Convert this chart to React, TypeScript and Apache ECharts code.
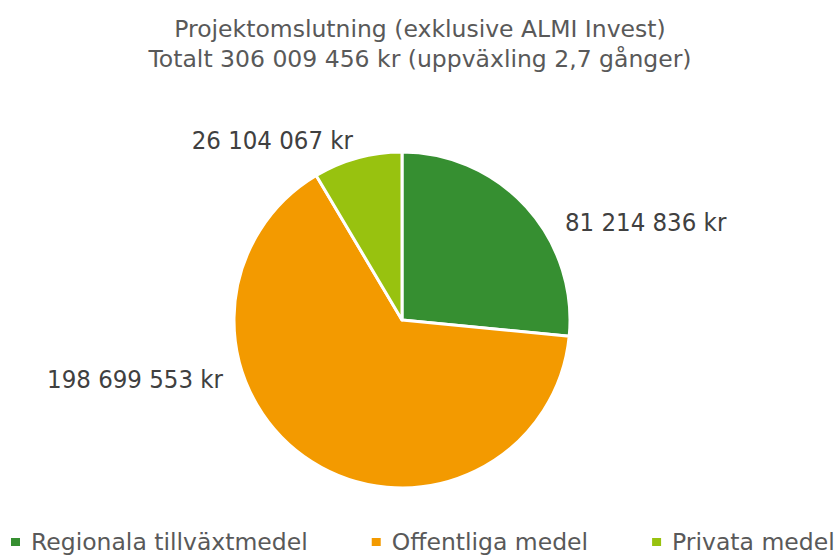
import React, { useEffect, useRef } from "react";
import * as echarts from "echarts";

const categories = ["Regionala tillväxtmedel", "Offentliga medel", "Privata medel"];
const values = [81214836, 198699553, 26104067];
const valueLabels = ["81 214 836 kr", "198 699 553 kr", "26 104 067 kr"];
const titleLines = [
  "Projektomslutning (exklusive ALMI Invest)",
  "Totalt 306 009 456 kr (uppväxling 2,7 gånger)",
];

const colors = ["#368F31", "#F39A00", "#98C20F"];
// label anchor positions (left/right edge, vertical middle)
const labelPos = [
  { x: 565, y: 222, align: "left" },
  { x: 223, y: 379, align: "right" },
  { x: 353, y: 140, align: "right" },
];

const FONT = "'DejaVu Sans', sans-serif";
const FONT_COND = "'DejaVu Sans Condensed', 'DejaVu Sans', sans-serif";

export default function App() {
  const ref = useRef<HTMLDivElement>(null);
  useEffect(() => {
    if (!ref.current) return;
    const chart = echarts.init(ref.current, null, { renderer: "svg" });
    chart.setOption({
      animation: false,
      backgroundColor: "#ffffff",
      color: colors,
      title: {
        text: titleLines.join("\n"),
        left: "center",
        top: 9,
        textStyle: {
          fontFamily: FONT,
          fontSize: 23.5,
          fontWeight: "normal",
          color: "#595959",
          lineHeight: 30,
        },
      },
      legend: {
        bottom: 2,
        left: 11,
        width: 1000,
        padding: 0,
        icon: "rect",
        itemWidth: 9,
        itemHeight: 8,
        itemGap: 64,
        itemStyle: { borderWidth: 0 },
        data: categories,
        textStyle: {
          fontFamily: FONT,
          fontSize: 23.5,
          color: "#595959",
          padding: [0, 0, 0, 6],
        },
      },
      series: [
        {
          type: "pie",
          center: [402, 320],
          radius: 168,
          startAngle: 90,
          clockwise: true,
          itemStyle: { borderColor: "#ffffff", borderWidth: 3 },
          label: {
            show: true,
            position: "outside",
            formatter: (p: any) => valueLabels[p.dataIndex],
            fontFamily: FONT_COND,
            fontSize: 25.5,
            color: "#404040",
          },
          labelLine: { show: false },
          labelLayout: (p: any) => {
            const lp = labelPos[p.dataIndex];
            return { x: lp.x, y: lp.y, align: lp.align, verticalAlign: "middle" };
          },
          data: categories.map((name, i) => ({ name, value: values[i] })),
        },
      ],
    });
    return () => chart.dispose();
  }, []);
  return (
    <div
      ref={ref}
      style={{ position: "fixed", left: 0, top: 0, width: 840, height: 556 }}
    />
  );
}
